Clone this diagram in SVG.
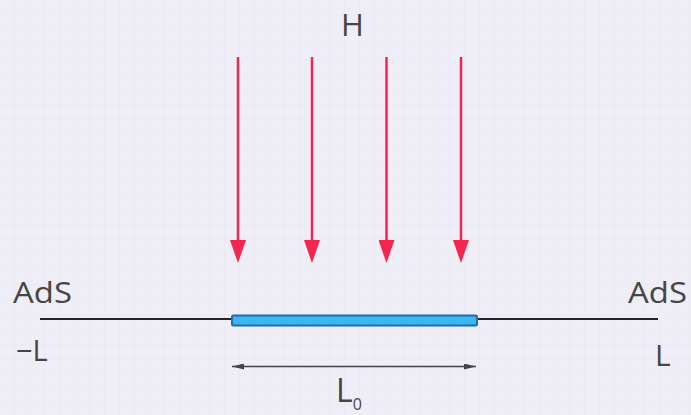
<svg xmlns="http://www.w3.org/2000/svg" width="691" height="415" viewBox="0 0 691 415">
<defs>
<pattern id="grid" width="15" height="15" patternUnits="userSpaceOnUse">
<path d="M15 0V15M0 15H15" fill="none" stroke="#e8e5ef" stroke-width="1"/>
</pattern>
<marker id="red" viewBox="0 0 23 16" refX="11" refY="8" markerWidth="23" markerHeight="16" markerUnits="userSpaceOnUse" orient="auto">
<path d="M0 0L23 8L0 16Z" fill="#f2264e"/>
</marker>
<marker id="dim" viewBox="0 0 12 6" refX="12" refY="3" markerWidth="12" markerHeight="6" markerUnits="userSpaceOnUse" orient="auto-start-reverse">
<path d="M0 0L12 3L0 6Z" fill="#444"/>
</marker>
</defs>
<style>
text{font-family:"Open Sans","Liberation Sans",sans-serif;fill:#454545}
.field{stroke:#f2264e;stroke-width:2.5;fill:none;marker-end:url(#red)}
</style>
<rect width="691" height="415" fill="#efedf5"/>
<rect width="691" height="415" fill="url(#grid)"/>
<g id="labels">
<text x="352.5" y="36" font-size="31" text-anchor="middle">H</text>
<text x="13" y="303" font-size="30" textLength="59" lengthAdjust="spacingAndGlyphs">AdS</text>
<text x="628" y="303" font-size="30" textLength="59" lengthAdjust="spacingAndGlyphs">AdS</text>
<text x="16" y="361" font-size="29">−L</text>
<text x="655" y="366" font-size="30">L</text>
<text x="336" y="402" font-size="32">L<tspan font-size="16" dy="8">0</tspan></text>
</g>
<g id="boundary">
<line x1="40" y1="319" x2="658" y2="319" stroke="#222" stroke-width="2"/>
</g>
<g id="bar">
<rect x="232" y="315.5" width="245" height="10" rx="1.5" fill="#3cb6f0" stroke="#1d6cb4" stroke-width="2"/>
</g>
<g id="connectors">
<line class="field" x1="238" y1="57" x2="238" y2="251"/>
<line class="field" x1="312" y1="57" x2="312" y2="251"/>
<line class="field" x1="386.5" y1="57" x2="386.5" y2="251"/>
<line class="field" x1="461" y1="57" x2="461" y2="251"/>
<line x1="232" y1="366.5" x2="476" y2="366.5" stroke="#444" stroke-width="1.5" marker-start="url(#dim)" marker-end="url(#dim)"/>
</g>
</svg>
